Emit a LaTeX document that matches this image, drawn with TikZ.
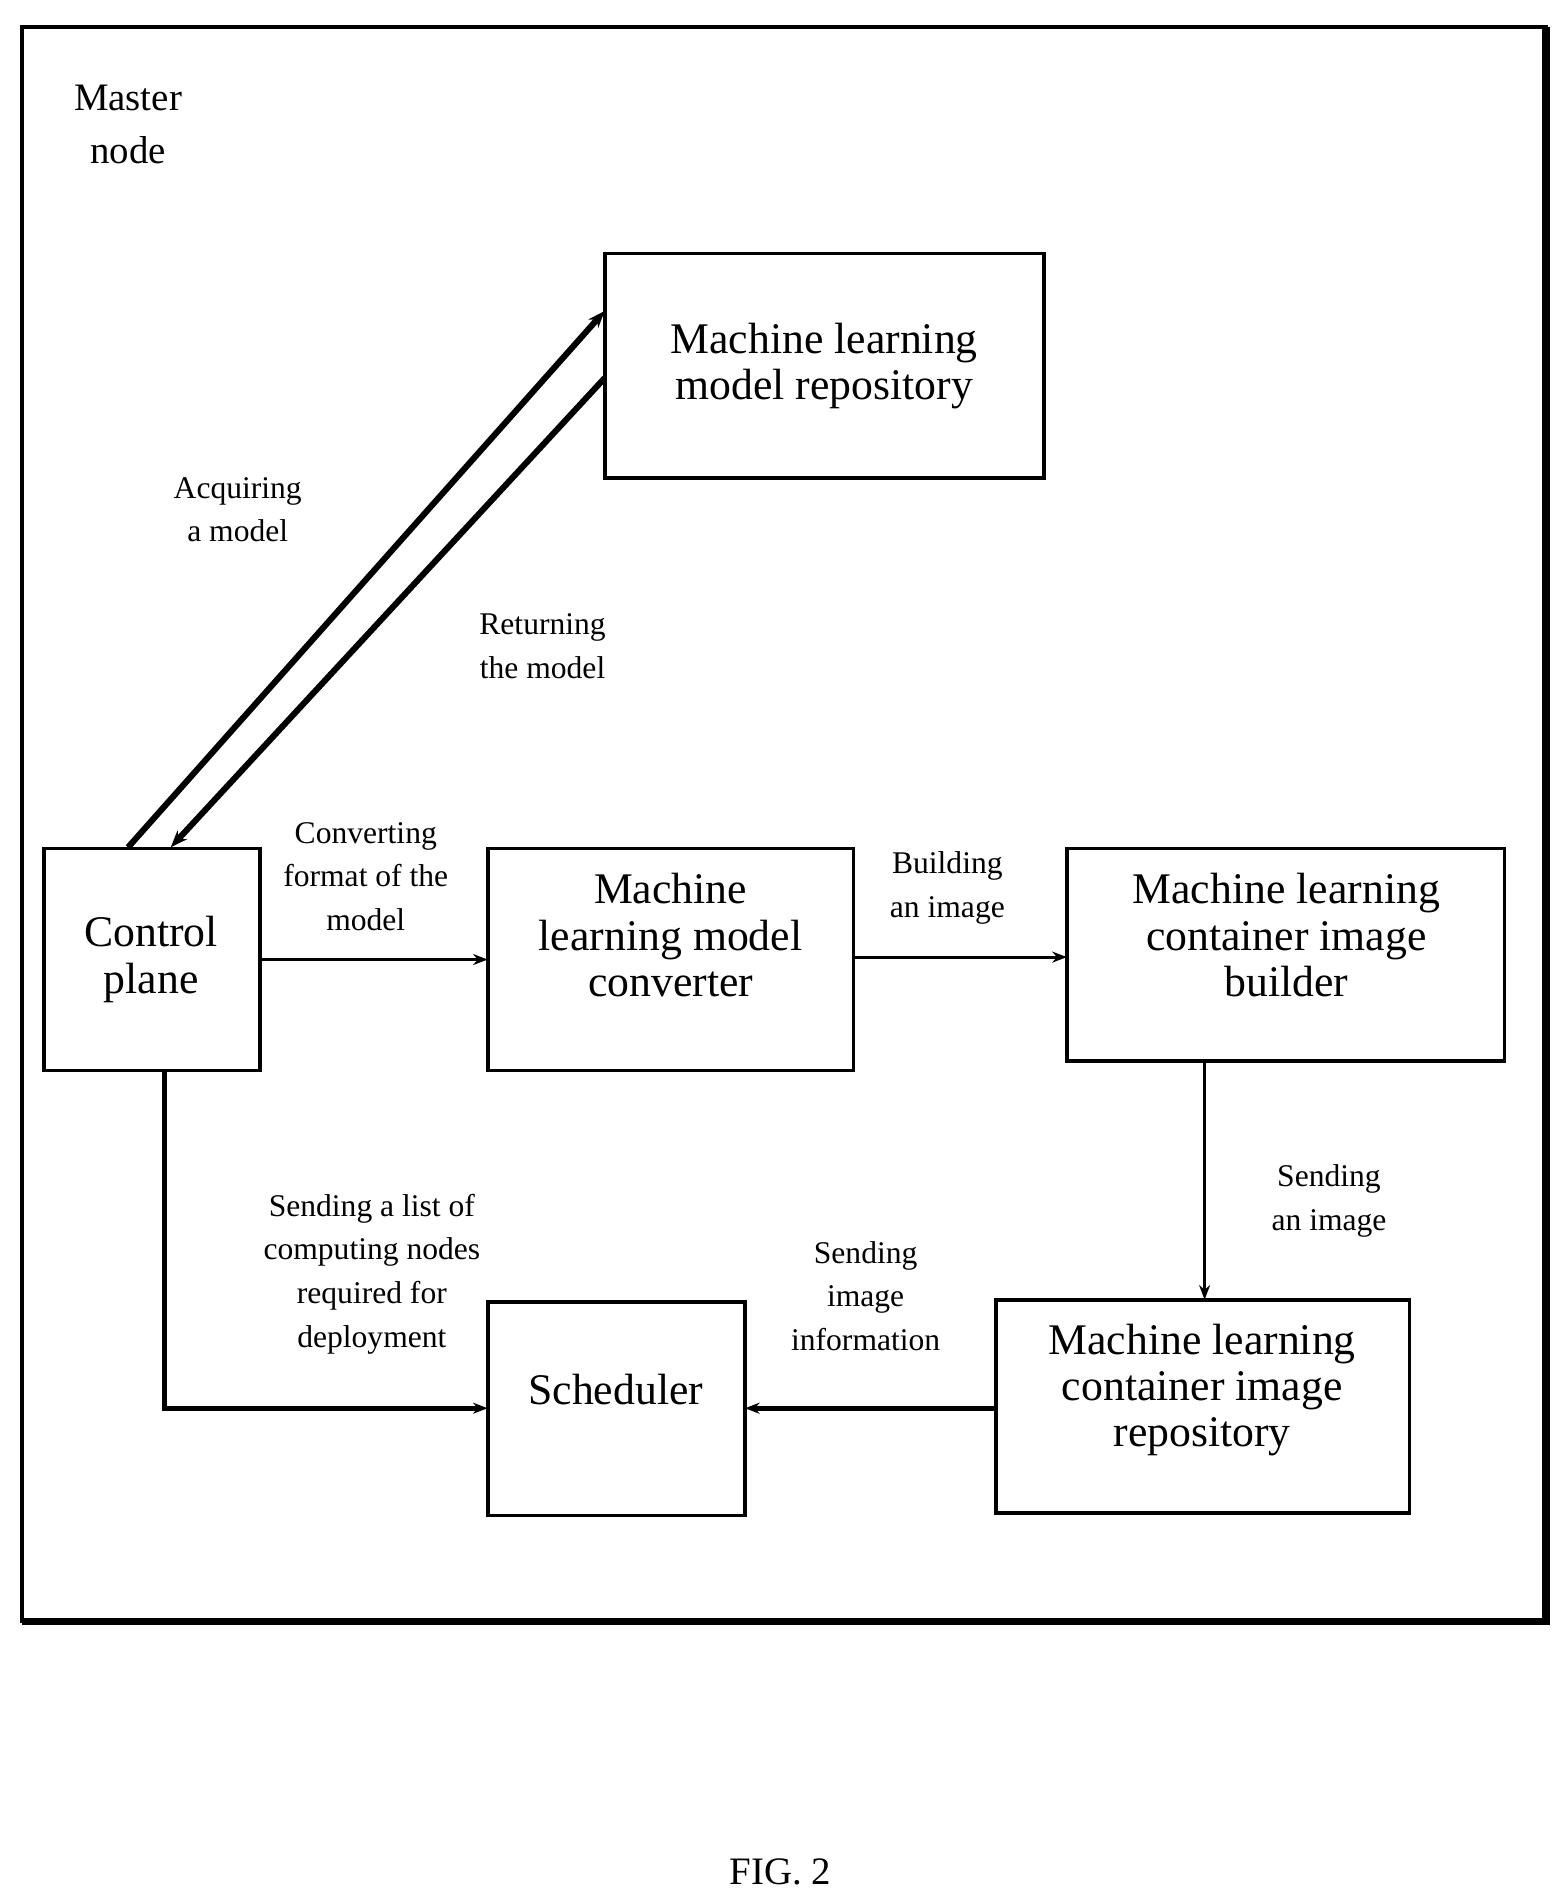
\documentclass[tikz,border=0pt]{standalone}
\usepackage{fontspec}
\setmainfont{Liberation Serif}
\usetikzlibrary{arrows.meta}
\begin{document}
\begin{tikzpicture}[x=0.5bp,y=-0.5bp,
  box/.style={draw,line width=1.5bp},
  big/.style={font=\fontsize{18}{19}\selectfont,align=center},
  lab/.style={font=\fontsize{13}{18}\selectfont,align=center},
  arr/.style={line width=1.2bp,-{Stealth[length=6bp]}}]
\useasboundingbox (0,0) rectangle (1280,1560);
\draw[line width=1.5bp] (18,22) rectangle (1268,1330);
\draw[line width=3bp] (18,1330) -- (1268,1330) -- (1268,22);
\node[lab,font=\fontsize{16}{22}\selectfont] (mn) at (105,102) {Master\\node};
\draw[box] (496,208) rectangle (856,392);
\node[big] (repo) at (676,300) {Machine learning\\model repository};
\draw[box] (36,696) rectangle (213,878);
\node[big] (cp) at (124,787) {Control\\plane};
\draw[box] (400,696) rectangle (700,878);
\node[big] (conv) at (550,767) {Machine\\learning model\\converter};
\draw[box] (875,696) rectangle (1234,870);
\node[big] (bld) at (1055,767) {Machine learning\\container image\\builder};
\draw[box] (400,1068) rectangle (611,1243);
\node[big] (sch) at (505,1140) {Scheduler};
\draw[box] (817,1066) rectangle (1156,1241);
\node[big] (irep) at (986,1140) {Machine learning\\container image\\repository};
\coordinate (a1) at (105,695); \coordinate (a2) at (496,255);
\coordinate (b1) at (140,695); \coordinate (b2) at (496,310);
\draw[line width=2.5bp,-{Stealth[length=7bp]}] (a1) -- (a2);
\draw[line width=2.5bp,-{Stealth[length=7bp]}] (b2) -- (b1);
\coordinate (c1) at (213,787); \coordinate (c2) at (400,787);
\draw[arr] (c1) -- (c2);
\coordinate (d1) at (700,785); \coordinate (d2) at (875,785);
\draw[arr] (d1) -- (d2);
\coordinate (e1) at (988,870); \coordinate (e2) at (988,1066);
\draw[arr] (e1) -- (e2);
\coordinate (f1) at (135,878); \coordinate (f2) at (135,1155); \coordinate (f3) at (400,1155);
\draw[arr,line width=2bp] (f1) -- (f2) -- (f3);
\coordinate (g1) at (817,1155); \coordinate (g2) at (611,1155);
\draw[arr,line width=2bp] (g1) -- (g2);
\node[lab] (l1) at (195,418) {Acquiring\\a model};
\node[lab] (l2) at (445,530) {Returning\\the model};
\node[lab] (l3) at (300,719) {Converting\\format of the\\model};
\node[lab] (l4) at (777,728) {Building\\an image};
\node[lab] (l5) at (1090,985) {Sending\\an image};
\node[lab] (l6) at (305,1045) {Sending a list of\\computing nodes\\required for\\deployment};
\node[lab] (l7) at (710,1063) {Sending\\image\\information};
\node[lab,font=\fontsize{16}{18}\selectfont] (fig) at (640,1535) {FIG. 2};
\end{tikzpicture}
\end{document}
